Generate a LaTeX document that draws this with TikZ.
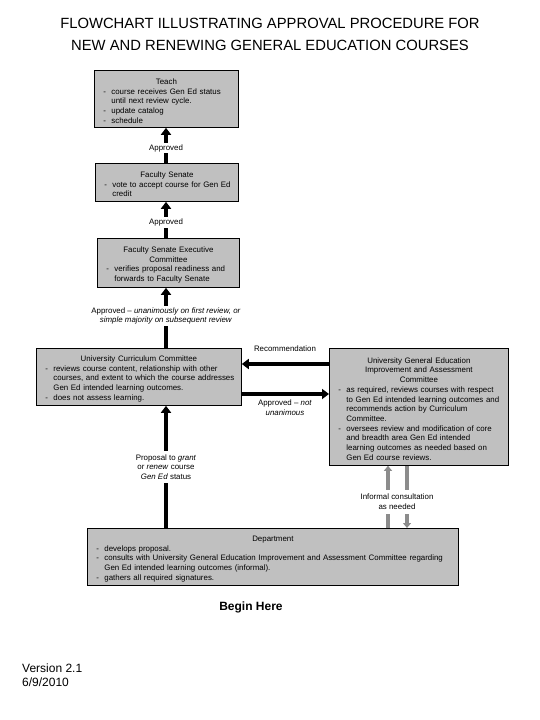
\documentclass[tikz,border=0pt]{standalone}
\usepackage{fontspec}
\setmainfont{Liberation Sans}
\usetikzlibrary{arrows.meta,calc}
\definecolor{boxgray}{RGB}{192,192,192}
\definecolor{arrgray}{RGB}{140,140,140}
\setlength{\parskip}{0pt}
\newcommand\ttl[1]{\par\noindent\hbox to\hsize{\hss#1\hss}\par}
\newcommand\bl[1]{\par\noindent\hspace*{9pt}\makebox[8pt][l]{-}\mbox{#1}\par}
\newcommand\cl[1]{\par\noindent\hspace*{17pt}\mbox{#1}\par}
\begin{document}
\begin{tikzpicture}[x=1pt,y=-1pt,
  box/.style={draw=black, line width=0.8pt, fill=boxgray, inner xsep=0pt, inner ysep=0pt,
    align=left, anchor=north west, font=\fontsize{7.9}{9.7}\selectfont},
  lbl/.style={font=\fontsize{7.9}{9.7}\selectfont, align=center, inner sep=1.5pt},
  arr/.style={line width=3.5pt, -{Triangle[width=10pt,length=7pt]}},
  garr/.style={line width=3.2pt, draw=arrgray, -{Triangle[width=8pt,length=5pt]}}]
\fill[white] (0,0) rectangle (540,720);
\useasboundingbox (0,0) rectangle (540,720);

\node[font=\fontsize{14.8}{22}\selectfont, align=center] (title) at (270,34)
  {FLOWCHART ILLUSTRATING APPROVAL PROCEDURE FOR\\NEW AND RENEWING GENERAL EDUCATION COURSES};

\node[box, text width=144pt, minimum height=57pt] (teach) at (94,70) {%
  \ttl{Teach}
  \bl{course receives Gen Ed status}
  \cl{until next review cycle.}
  \bl{update catalog}
  \bl{schedule}};

\node[box, text width=143pt, minimum height=38pt] (fs) at (95,163) {%
  \ttl{Faculty Senate}
  \bl{vote to accept course for Gen Ed}
  \cl{credit}};

\node[box, text width=142pt, minimum height=49pt] (exec) at (97,238) {%
  \ttl{Faculty Senate Executive}
  \ttl{Committee}
  \bl{verifies proposal readiness and}
  \cl{forwards to Faculty Senate}};

\node[box, text width=205pt, minimum height=57pt] (ucc) at (36,348) {%
  \ttl{University Curriculum Committee}
  \bl{reviews course content, relationship with other}
  \cl{courses, and extent to which the course addresses}
  \cl{Gen Ed intended learning outcomes.}
  \bl{does not assess learning.}};

\node[box, text width=179pt, minimum height=117pt] (right) at (329,348) {%
  \ttl{University General Education}
  \ttl{Improvement and Assessment}
  \ttl{Committee}
  \bl{as required, reviews courses with respect}
  \cl{to Gen Ed intended learning outcomes and}
  \cl{recommends action by Curriculum}
  \cl{Committee.}
  \bl{oversees review and modification of core}
  \cl{and breadth area Gen Ed intended}
  \cl{learning outcomes as needed based on}
  \cl{Gen Ed course reviews.}};

\node[box, text width=371pt, minimum height=57pt] (dept) at (87,528) {%
  \ttl{Department}
  \bl{develops proposal.}
  \bl{consults with University General Education Improvement and Assessment Committee regarding}
  \cl{Gen Ed intended learning outcomes (informal).}
  \bl{gathers all required signatures.}};

\node[font=\bfseries\fontsize{12}{14}\selectfont] (begin) at (251,607) {Begin Here};
\node[anchor=west, align=left, inner sep=0pt, font=\fontsize{12}{14}\selectfont] (ver) at (22,675)
  {Version 2.1\\6/9/2010};

\coordinate (xc) at (166,0);
\coordinate (ry) at (0,364);
\coordinate (ay) at (0,394);
\coordinate (g1) at (388,0);
\coordinate (g2) at (407,0);

\draw[arr] (fs.north -| xc) -- node[lbl, fill=white, pos=0.42] (lab1) {Approved} (teach.south -| xc);
\draw[arr] (exec.north -| xc) -- node[lbl, fill=white, pos=0.43] (lab2) {Approved} (fs.south -| xc);
\draw[arr] (ucc.north -| xc) -- node[lbl, fill=white, pos=0.53] (lab3)
  {Approved -- \textit{unanimously on first review, or}\\\textit{simple majority on subsequent review}} (exec.south -| xc);
\draw[arr] (dept.north -| xc) -- node[lbl, fill=white, inner sep=3pt, pos=0.5] (lab4)
  {Proposal to \textit{grant}\\or \textit{renew} course\\\textit{Gen Ed} status} (ucc.south -| xc);

\draw[arr] (right.west |- ry) -- (ucc.east |- ry);
\node[lbl] (rec) at (285,349) {Recommendation};
\draw[arr] (ucc.east |- ay) -- (right.west |- ay);
\node[lbl] (notun) at (285,407.5) {Approved -- \textit{not}\\\textit{unanimous}};

\draw[garr] (dept.north -| g1) -- (right.south -| g1);
\draw[garr] (right.south -| g2) -- (dept.north -| g2);
\node[lbl, fill=white, inner sep=4pt] (inf) at (397,502) {Informal consultation\\as needed};
\end{tikzpicture}
\end{document}
